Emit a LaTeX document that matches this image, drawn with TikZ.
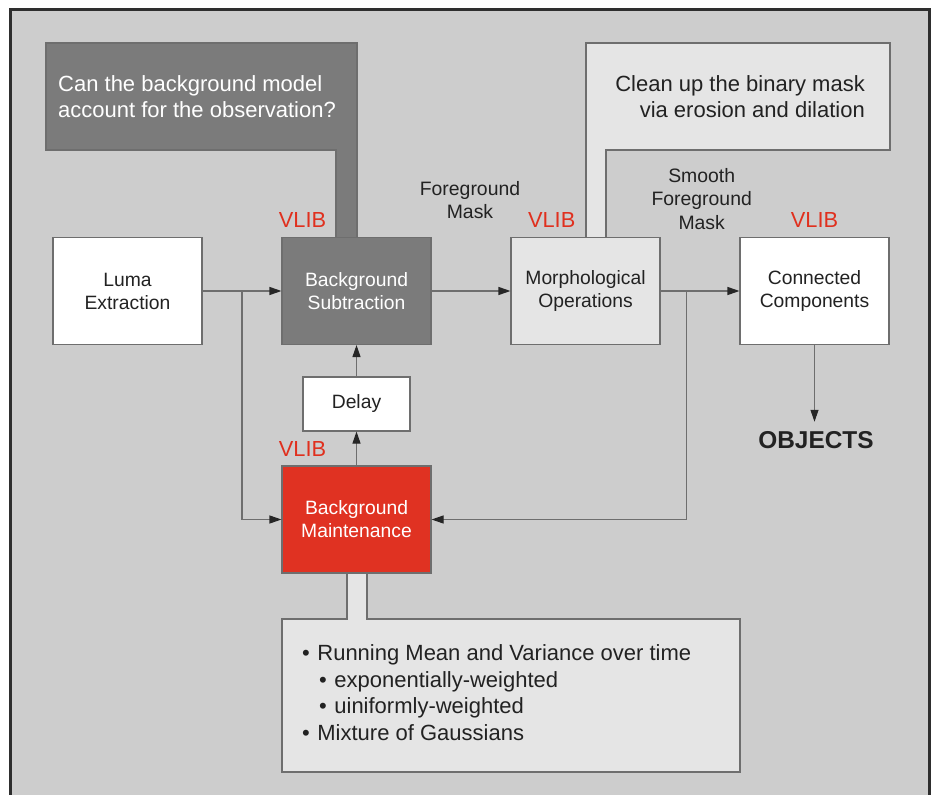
\documentclass[tikz,border=0pt]{standalone}
\usepackage{fontspec}
\setmainfont{Liberation Sans}
\usetikzlibrary{arrows.meta,calc}
\definecolor{bgc}{HTML}{CDCDCD}
\definecolor{darkbox}{HTML}{7B7B7B}
\definecolor{lightbox}{HTML}{E5E5E5}
\definecolor{redbox}{HTML}{E03222}
\definecolor{vlibred}{HTML}{E0301E}
\definecolor{edgegray}{HTML}{6E6E6E}
\definecolor{txt}{HTML}{222222}
\definecolor{framec}{HTML}{2E2E2E}
\begin{document}
\begin{tikzpicture}[x=1pt,y=-1pt,
  box/.style={draw=edgegray, line width=1.1pt, minimum width=149pt, minimum height=107pt,
    inner sep=0pt, align=center, font=\fontsize{19.3}{23}\selectfont, text=txt},
  smallbox/.style={box, minimum width=107pt, minimum height=54pt},
  conn/.style={draw=edgegray, line width=1.1pt, -{Triangle[length=12pt,width=8pt,color=black!85]}},
  vlib/.style={text=vlibred, font=\fontsize{21.8}{25}\selectfont, anchor=base, inner sep=0pt},
  lbl/.style={text=txt, font=\fontsize{19.4}{23.5}\selectfont, align=center, inner sep=0pt},
  callout/.style={draw=edgegray, line width=1.1pt},
  ctext/.style={font=\fontsize{22}{26}\selectfont, inner sep=0pt},
  btext/.style={font=\fontsize{22}{26}\selectfont, inner sep=0pt, anchor=base west, text=txt},
]
\useasboundingbox (0,0) rectangle (933,794);
\fill[white] (0,0) rectangle (933,794);
\begin{scope}
  \clip (0,0) rectangle (933,794);
  \draw[draw=framec, line width=3pt, fill=bgc] (10.5,10) rectangle (929.5,830);
\end{scope}

% callouts
\path[callout, fill=darkbox] (46,43) -- (357,43) -- (357,237.5) -- (336,237.5) -- (336,150) -- (46,150) -- cycle;
\path[callout, fill=lightbox] (586,43) -- (890,43) -- (890,150) -- (606,150) -- (606,237.5) -- (586,237.5) -- cycle;
\path[callout, fill=lightbox] (282,619) -- (347,619) -- (347,573) -- (367,573) -- (367,619) -- (740,619) -- (740,772) -- (282,772) -- cycle;

\node[ctext, text=white, anchor=base west] (q1) at (58,92) {Can the background model};
\node[ctext, text=white, anchor=base west] (q2) at (58,118) {account for the observation?};
\node[ctext, text=txt, anchor=base east] (c1) at (865,92) {Clean up the binary mask};
\node[ctext, text=txt, anchor=base east] (c2) at (865,118) {via erosion and dilation};

% boxes
\node[box, fill=white] (luma) at (127.5,291) {Luma\\Extraction};
\node[box, fill=darkbox, text=white] (bs) at (356.5,291) {Background\\Subtraction};
\node[box, fill=lightbox] (mo) at (585.5,291) {Morphological\\Operations};
\node[box, fill=white] (cc) at (814.5,291) {Connected\\Components};
\node[smallbox, fill=white] (delay) at (356.5,404) {\raisebox{-3pt}{Delay}};
\node[box, fill=redbox, text=white] (bm) at (356.5,519.5) {Background\\Maintenance};

% labels
\node[vlib] (v1) at (302.5,227) {VLIB};
\node[vlib] (v2) at (551.7,227) {VLIB};
\node[vlib] (v3) at (814.5,227) {VLIB};
\node[vlib] (v4) at (302.5,456.7) {VLIB};
\node[lbl] (fm) at (470,200) {Foreground\\Mask};
\node[lbl] (sfm) at (701.7,199) {Smooth\\Foreground\\Mask};
\node[font=\bfseries\fontsize{24.4}{28}\selectfont, text=txt, anchor=base, inner xsep=0pt, inner ysep=9pt] (obj) at (816,448) {OBJECTS};

% bullets
\node[btext] (b1) at (302,660) {•\hspace{7.5pt}Running Mean and Variance over time};
\node[btext] (b2) at (319,687) {•\hspace{7.5pt}exponentially-weighted};
\node[btext] (b3) at (319,713.5) {•\hspace{7.5pt}uiniformly-weighted};
\node[btext] (b4) at (302,740) {•\hspace{7.5pt}Mixture of Gaussians};

% connectors
\coordinate (j1) at ($(luma.east)!0.5!(bs.west)$);
\coordinate (j2) at ($(mo.east)+(26,0)$);
\draw[conn] (luma.east) -- (bs.west);
\draw[conn] (j1) |- (bm.west);
\draw[conn] (bs.east) -- (mo.west);
\draw[conn] (mo.east) -- (cc.west);
\draw[conn] (j2) |- (bm.east);
\draw[conn] (bm.north) -- (delay.south);
\draw[conn] (delay.north) -- (bs.south);
\draw[conn] (cc.south) -- (cc.south |- obj.north);
\end{tikzpicture}
\end{document}
